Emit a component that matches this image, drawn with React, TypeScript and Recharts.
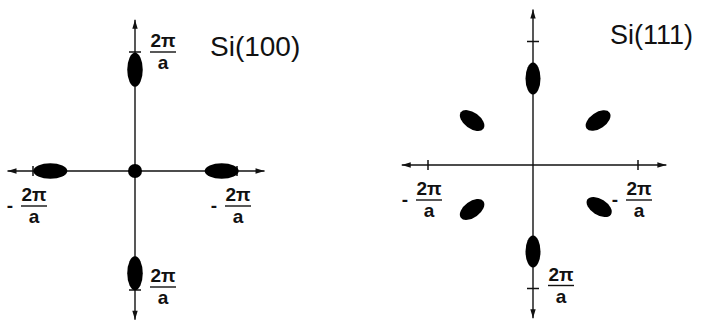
import React from 'react';
import { ScatterChart, Scatter, XAxis, YAxis, ReferenceLine, ReferenceDot } from 'recharts';

// Valley centres, in units of 2π/a
const SI100_AXIAL = [
  { kx: 0, ky: 0.85 },
  { kx: 0, ky: -0.86 },
  { kx: -0.83, ky: 0 },
  { kx: 0.85, ky: 0 },
];
const SI100_GAMMA = [{ kx: 0, ky: 0 }];
const SI111_AXIAL = [
  { kx: 0, ky: 0.7 },
  { kx: 0, ky: -0.7 },
];
const SI111_OBLIQUE = [
  { kx: -0.58, ky: 0.36 },
  { kx: 0.62, ky: 0.36 },
  { kx: -0.58, ky: -0.36 },
  { kx: 0.63, ky: -0.34 },
];

// Zone-edge tick marks
const SI100_TICKS = [
  { kx: 0, ky: 1 },
  { kx: 0, ky: -1 },
  { kx: -1, ky: 0 },
  { kx: 1, ky: 0 },
];
const SI111_TICKS = [
  { kx: 0, ky: 1 },
  { kx: 0, ky: -1 },
  { kx: -1, ky: 0 },
  { kx: 1, ky: 0 },
];

// Tick labels: 2π/a, some with a leading minus
const NUMERATOR = '2π';
const DENOMINATOR = 'a';
const SI100_LABELS = [
  { kx: 0, ky: 1, sign: '' },
  { kx: 0, ky: -1, sign: '' },
  { kx: -1, ky: 0, sign: '-' },
  { kx: 1, ky: 0, sign: '-' },
];
const SI111_LABELS = [
  { kx: 0, ky: -1, sign: '' },
  { kx: -1, ky: 0, sign: '-' },
  { kx: 1, ky: 0, sign: '-' },
];

// Axis arrow extents
const SI100_AXES = { x: [-1.25, 1.27], y: [-1.25, 1.27] };
const SI111_AXES = { x: [-1.25, 1.27], y: [-1.24, 1.26] };

const H = 322;
const FONT = '"Liberation Sans", Arial, Helvetica, sans-serif';

function arrowLine(p: any) {
  const { x1, y1, x2, y2 } = p;
  const len = Math.hypot(x2 - x1, y2 - y1) || 1;
  const ux = (x2 - x1) / len;
  const uy = (y2 - y1) / len;
  const head = (x: number, y: number, dx: number, dy: number) => {
    const L = 9;
    const W = 2.7;
    const bx = x - dx * L;
    const by = y - dy * L;
    return `M${x},${y}L${bx - dy * W},${by + dx * W}L${bx + dy * W},${by - dx * W}Z`;
  };
  return (
    <g>
      <line x1={x1} y1={y1} x2={x2} y2={y2} stroke="#111" strokeWidth={1.4} />
      <path d={head(x2, y2, ux, uy) + head(x1, y1, -ux, -uy)} fill="#111" />
    </g>
  );
}

const tickShape = (vertical: boolean) => (p: any) => {
  const { cx, cy } = p;
  return vertical ? (
    <line x1={cx} x2={cx} y1={cy - 5} y2={cy + 5} stroke="#111" strokeWidth={1.5} />
  ) : (
    <line x1={cx - 6} x2={cx + 6} y1={cy} y2={cy} stroke="#111" strokeWidth={1.5} />
  );
};

const fractionShape = (sign: string, dx: number, dy: number) => (p: any) => {
  const x = p.cx + dx;
  const y = p.cy + dy;
  return (
    <g fontFamily={FONT} fontWeight="bold" fontSize={19} fill="#111">
      {sign && (
        <text x={x - 24} y={y + 6} textAnchor="middle">
          {sign}
        </text>
      )}
      <text x={x} y={y - 5} textAnchor="middle">
        {NUMERATOR}
      </text>
      <line x1={x - 13} x2={x + 13} y1={y} y2={y} stroke="#111" strokeWidth={1.4} />
      <text x={x} y={y + 17} textAnchor="middle">
        {DENOMINATOR}
      </text>
    </g>
  );
};

// valleys are stretched along the radial direction
const valleyShape = (major: number, minor: number, ux: number, uy: number) => (p: any) => {
  const { cx, cy, payload } = p;
  if (payload.kx === 0 && payload.ky === 0) {
    return <circle cx={cx} cy={cy} r={minor / 2} fill="#000" />;
  }
  const ang = (Math.atan2(-payload.ky * uy, payload.kx * ux) * 180) / Math.PI;
  return (
    <ellipse
      cx={cx}
      cy={cy}
      rx={major / 2}
      ry={minor / 2}
      transform={`rotate(${ang} ${cx} ${cy})`}
      fill="#000"
    />
  );
};

type Series = { data: { kx: number; ky: number }[]; major: number; minor: number };

interface PanelProps {
  left: number;
  width: number;
  origin: [number, number];
  unit: [number, number];
  axes: { x: number[]; y: number[] };
  ticks: { kx: number; ky: number }[];
  labels: { kx: number; ky: number; sign: string }[];
  series: Series[];
  title: string;
  titleX: number;
  titleTop: number;
  titleSize: number;
}

function Panel(props: PanelProps) {
  const { left, width, origin, unit, axes, ticks, labels, series } = props;
  const [ox, oy] = origin;
  const [ux, uy] = unit;
  const xDomain = [-ox / ux, (width - ox) / ux];
  const yDomain = [-(H - oy) / uy, oy / uy];

  return (
    <div style={{ position: 'absolute', left, top: 0, width, height: H }}>
      <ScatterChart width={width} height={H} margin={{ top: 0, right: 0, bottom: 0, left: 0 }}>
        <XAxis type="number" dataKey="kx" domain={xDomain} allowDataOverflow hide />
        <YAxis type="number" dataKey="ky" domain={yDomain} allowDataOverflow hide />
        <ReferenceLine
          segment={[
            { x: axes.x[0], y: 0 },
            { x: axes.x[1], y: 0 },
          ]}
          shape={arrowLine}
        />
        <ReferenceLine
          segment={[
            { x: 0, y: axes.y[0] },
            { x: 0, y: axes.y[1] },
          ]}
          shape={arrowLine}
        />
        {ticks.map((t, i) => (
          <ReferenceDot key={`t${i}`} x={t.kx} y={t.ky} r={1} shape={tickShape(t.ky === 0)} />
        ))}
        {labels.map((l, i) => (
          <ReferenceDot
            key={`l${i}`}
            x={l.kx}
            y={l.ky}
            r={1}
            shape={l.ky === 0 ? fractionShape(l.sign, 1, 35) : fractionShape(l.sign, 28, l.ky > 0 ? 0 : -3)}
          />
        ))}
        {series.map((s, i) => (
          <Scatter
            key={`s${i}`}
            data={s.data}
            isAnimationActive={false}
            shape={valleyShape(s.major, s.minor, ux, uy)}
          />
        ))}
      </ScatterChart>
      <div
        style={{
          position: 'absolute',
          left: props.titleX,
          top: props.titleTop,
          fontFamily: FONT,
          fontSize: props.titleSize,
          lineHeight: `${props.titleSize}px`,
          color: '#111',
          whiteSpace: 'nowrap',
        }}
      >
        {props.title}
      </div>
    </div>
  );
}

export default function App() {
  return (
    <div
      style={{
        position: 'absolute',
        left: 0,
        top: 0,
        width: 703,
        height: H,
        background: '#fff',
        overflow: 'hidden',
      }}
    >
      <Panel
        left={0}
        width={350}
        origin={[135, 171]}
        unit={[102, 119]}
        axes={SI100_AXES}
        ticks={SI100_TICKS}
        labels={SI100_LABELS}
        series={[
          { data: SI100_AXIAL, major: 34, minor: 15.5 },
          { data: SI100_GAMMA, major: 14, minor: 14 },
        ]}
        title="Si(100)"
        titleX={210}
        titleTop={33}
        titleSize={28}
      />
      <Panel
        left={350}
        width={353}
        origin={[183, 165]}
        unit={[105, 123.5]}
        axes={SI111_AXES}
        ticks={SI111_TICKS}
        labels={SI111_LABELS}
        series={[
          { data: SI111_AXIAL, major: 32, minor: 15 },
          { data: SI111_OBLIQUE, major: 28, minor: 16 },
        ]}
        title="Si(111)"
        titleX={260}
        titleTop={22}
        titleSize={27}
      />
    </div>
  );
}
